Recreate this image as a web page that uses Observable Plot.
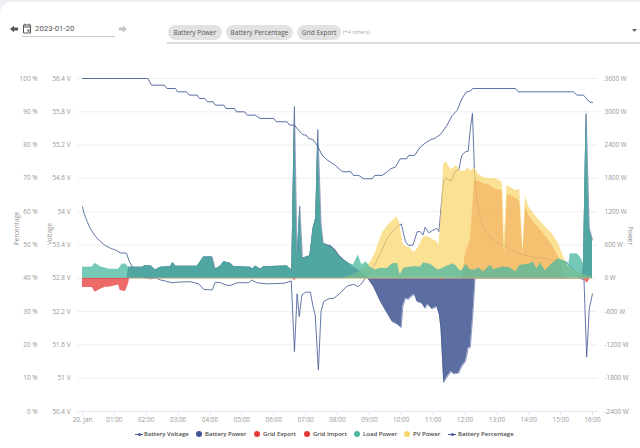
<!DOCTYPE html>
<html><head><meta charset="utf-8">
<script src="https://cdn.jsdelivr.net/npm/d3@7"></script>
<script src="https://cdn.jsdelivr.net/npm/@observablehq/plot@0.6"></script>
<style>
html,body{margin:0;padding:0;background:#eef0f4;width:640px;height:448px;overflow:hidden;font-family:"Open Sans",sans-serif}
#card{position:relative;width:640px;height:446px;margin-top:2px;background:#fff;border-top-left-radius:12px;overflow:hidden}
#head{position:relative;height:58px}
#head>*{position:absolute}
.chip{top:23px;height:15px;line-height:15px;background:#e2e2e2;border-radius:8px;font-size:6.5px;color:#555;text-align:center}
#plot{position:absolute;left:0;top:58px}
#plot svg{display:block;background:transparent}
#legend{position:absolute;top:426px;left:0;width:640px;height:12px;font-size:6px;font-weight:600;color:#4a4a4a}
#legend span{position:absolute;top:0;line-height:12px;white-space:nowrap}
#legend i{position:absolute;top:3px;width:6px;height:6px;border-radius:50%}
#legend b{position:absolute;top:5.5px;width:8px;height:1px;background:#4a5f9a}
#legend b:after{content:"";position:absolute;left:2.5px;top:-1px;width:3px;height:3px;border-radius:50%;background:#4a5f9a}
</style></head><body>
<div id="card">
<div id="head">
<svg style="left:10px;top:23px" width="8" height="8" viewBox="0 0 8 8"><path d="M0 4L4 .8V2.6H8V5.4H4V7.2Z" fill="#555"/></svg>
<svg style="left:22px;top:21px" width="10" height="11" viewBox="0 0 10 11"><path d="M1.5 2H8.5V10H1.5ZM1.5 4H8.5M3 .6V2.4M7 .6V2.4" fill="none" stroke="#555" stroke-width="1"/><rect x="5.5" y="6.5" width="2" height="2" fill="#555"/></svg>
<div style="left:35px;top:20px;font:7.8px/14px Roboto,sans-serif;color:#555">2023-01-20</div>
<div style="left:22px;top:34px;width:93px;height:1px;background:#c9c9c9"></div>
<svg style="left:119px;top:23px" width="8" height="8" viewBox="0 0 8 8"><path d="M8 4L4 .8V2.6H0V5.4H4V7.2Z" fill="#c4c4c4"/></svg>
<div class="chip" style="left:168px;width:54px">Battery Power</div>
<div class="chip" style="left:226px;width:67px">Battery Percentage</div>
<div class="chip" style="left:297px;width:44px">Grid Export</div>
<div style="left:343px;top:23px;font-size:5.4px;line-height:15px;color:#aaa">(+4 others)</div>
<div style="left:167px;top:40px;width:473px;height:2px;background:#dcdcdc"></div>
<svg style="left:632px;top:27px" width="5" height="3" viewBox="0 0 5 3"><path d="M0 0H5L2.5 3Z" fill="#666"/></svg>
</div>
<div id="plot"></div>
<div id="legend"></div>
</div>
<script>
// [minute of day, value]
const batteryPercentage = [[0,100],[123,100],[130,98],[154,98],[159,97],[175,97],[179,96],[196,96],[201,95],[216,95],[220,94],[230,94],[235,93],[246,93],[250,92],[266,92],[270,91],[286,91],[290,90],[305,90],[310,89],[325,89],[334,88],[360,88],[365,87],[385,87],[390,86],[399,86],[407,84.4],[415,83.1],[421,83],[426,81.9],[433,81.8],[442,79.9],[451,77],[460,75.6],[476,73.9],[489,72],[505,72],[510,70.9],[520,70.9],[529,69.9],[545,69.9],[550,70.9],[564,70.9],[573,71.9],[580,72.9],[589,73.4],[598,75.9],[610,75.9],[614,76.9],[625,76.9],[636,79.4],[645,80.6],[655,81.6],[664,82.1],[675,83.4],[686,85.9],[696,88.9],[705,90.4],[714,93.9],[722,95.9],[729,96.2],[735,97],[815,97],[820,96],[924,96],[931,95],[943,95],[954,93],[960,92.8]];
const batteryVoltage = [[0,54.09],[3,53.97],[9,53.82],[15,53.69],[24,53.56],[34,53.46],[43,53.39],[53,53.34],[62,53.31],[71,53.26],[83,53.25],[87,53.13],[93,53.02],[100,52.94],[109,52.86],[118,52.81],[128,52.79],[137,52.81],[147,52.77],[156,52.75],[169,52.72],[178,52.73],[203,52.74],[219,52.7],[228,52.6],[244,52.59],[250,52.73],[260,52.72],[269,52.68],[278,52.67],[291,52.72],[313,52.72],[319,52.77],[328,52.72],[347,52.7],[379,52.71],[393,52.75],[399,51.48],[404,52.52],[408,52.11],[413,52.5],[420,52.55],[429,52.55],[434,52.29],[438,52.14],[444,51.15],[449,52.2],[454,52.38],[463,52.43],[473,52.44],[485,52.53],[498,52.66],[510,52.69],[519,52.65],[526,52.71],[536,52.86],[548,53.01],[561,53.25],[573,53.52],[586,53.67],[597,53.76],[600,53.78],[608,53.46],[614,53.39],[622,53.4],[630,53.64],[636,53.64],[641,53.58],[645,53.72],[652,53.62],[660,53.67],[667,53.7],[671,53.64],[675,54.09],[680,54.57],[685,54.6],[694,54.55],[702,54.73],[708,54.75],[714,55.02],[721,55.08],[726,55.09],[730,55.5],[734,55.77],[738,54.69],[743,54.15],[749,53.85],[758,53.66],[771,53.51],[783,53.45],[793,53.38],[805,53.33],[824,53.24],[849,53.18],[874,53.15],[893,53.12],[912,53.08],[931,52.9],[937,52.8],[944,52.77],[949,51.38],[954,52.26],[960,52.52]];
const batteryPower = [[0,0],[84,0],[87,198],[112,198],[118,228],[129,222],[137,150],[147,198],[165,210],[170,282],[175,216],[216,216],[228,384],[244,384],[250,162],[260,222],[266,300],[278,270],[285,210],[316,198],[321,162],[325,222],[335,162],[341,210],[385,222],[392,162],[394,162],[399,3100],[404,330],[409,1302],[414,360],[428,408],[434,900],[439,1080],[443,2682],[449,990],[453,630],[461,600],[467,588],[476,510],[482,420],[492,330],[501,270],[513,180],[523,120],[537,0],[548,-150],[561,-420],[573,-618],[583,-780],[592,-822],[600,-888],[603,-510],[608,-360],[614,-378],[620,-318],[625,-288],[630,-420],[639,-450],[645,-540],[650,-468],[658,-552],[667,-510],[672,-660],[675,-930],[680,-1878],[686,-1782],[694,-1680],[699,-1722],[708,-1710],[714,-1590],[721,-1500],[726,-1260],[730,-1242],[735,-630],[739,0],[940,0],[943,234],[948,2964],[954,900],[960,690]];
const gridExport = [[0,0],[714,0],[721,444],[730,684],[738,1764],[746,1752],[755,1704],[768,1674],[774,1614],[790,1584],[793,564],[795,444],[800,1512],[812,1464],[823,1374],[826,900],[829,384],[834,1284],[840,1134],[852,984],[868,804],[884,594],[896,384],[906,24],[915,0],[960,0]];
const gridImport = [[0,-168],[18,-168],[24,-252],[34,-198],[43,-162],[50,-162],[68,-120],[71,-222],[81,-240],[86,-120],[89,0],[394,0],[399,-40],[404,0],[674,0],[678,-40],[682,0],[942,0],[950,-90],[956,0],[960,0]];
const loadPower = [[0,198],[18,204],[24,270],[34,210],[43,186],[50,162],[68,162],[75,258],[81,258],[87,198],[112,198],[118,228],[129,222],[137,150],[147,198],[165,210],[170,282],[175,216],[216,216],[228,384],[244,384],[250,162],[260,222],[266,300],[278,270],[285,210],[316,198],[321,162],[325,222],[335,162],[341,210],[385,222],[392,162],[394,162],[399,2910],[404,330],[409,1302],[414,360],[428,408],[434,900],[439,1080],[443,2520],[449,990],[453,630],[461,590],[467,570],[476,490],[482,400],[492,320],[501,270],[510,240],[519,420],[526,240],[534,300],[541,210],[551,150],[561,180],[573,170],[583,258],[593,270],[598,60],[605,180],[623,210],[636,204],[642,276],[655,252],[670,144],[686,216],[699,264],[705,204],[710,144],[714,132],[722,250],[730,156],[738,144],[746,192],[755,114],[768,234],[774,156],[790,204],[805,192],[815,114],[824,234],[840,252],[849,294],[855,174],[863,276],[871,132],[884,264],[896,354],[912,294],[915,204],[918,444],[931,444],[937,384],[943,264],[948,3084],[954,900],[960,684]];
const pvPower = [[0,0],[490,0],[497,30],[522,120],[541,270],[551,450],[564,810],[576,960],[592,1110],[597,990],[604,600],[611,570],[617,540],[625,462],[633,570],[642,750],[651,750],[667,660],[671,594],[675,1164],[680,2064],[685,2094],[694,1956],[704,2034],[711,1932],[722,1932],[725,2004],[730,1932],[738,1986],[746,1872],[755,1812],[768,1794],[778,1794],[790,1734],[792,1400],[794,684],[799,1674],[815,1584],[823,1596],[826,1100],[829,534],[834,1494],[840,1284],[852,1134],[868,954],[884,804],[896,624],[907,354],[915,204],[931,114],[959,24],[960,0]];
const tickValues = [-2400,-1800,-1200,-600,0,600,1200,1800,2400,3000,3600];
const hourTicks = d3.range(0,961,60);
const seriesColors = {voltage:"#4a5f9a",battery:"#3f5490",export:"#e53935",import:"#e53935",load:"#4cb8a0",pv:"#f8d66a"};
const legendItems = [["Battery Voltage","line",135,144],["Battery Power",seriesColors.battery,196,205],["Grid Export",seriesColors.export,254,263],["Grid Import",seriesColors.import,304,313],["Load Power",seriesColors.load,354,363],["PV Power",seriesColors.pv,404,413],["Battery Percentage","line",448,458]];

const pctToW = p => p*60-2400;
const voltToW = v => (v-50.4)*1000-2400;
const label = "#969696";
const area = (data,fill,op) => Plot.areaY(data,{x:d=>d[0],y1:0,y2:d=>d[1],fill,fillOpacity:op,curve:"linear"});
const chart = Plot.plot({
  width:640,height:370,marginLeft:77,marginRight:43,marginTop:18,marginBottom:19,
  style:{fontFamily:"'Open Sans',sans-serif",fontSize:"6.4px",color:label,background:"transparent",overflow:"visible"},
  x:{domain:[-9.4,969.4],axis:null},
  y:{domain:[-2400,3600],axis:null},
  marks:[
    Plot.ruleY(tickValues.slice(1),{stroke:"#efefef",strokeWidth:1}),
    Plot.ruleY([-2400],{stroke:"#e4e6f5",strokeWidth:1}),
    Plot.axisX({ticks:hourTicks,tickSize:4,tickPadding:2,stroke:"#dfe2f3",fill:label,label:null,
      tickFormat:m=>m===0?"20. jan":String(m/60).padStart(2,"0")+":00"}),
    Plot.axisY({anchor:"left",ticks:tickValues,tickSize:0,tickPadding:7,fill:label,label:null,
      tickFormat:w=>(50.4+(w+2400)/1000).toFixed(1).replace(/\.0$/,"")+" V"}),
    Plot.axisY({anchor:"left",ticks:tickValues,tickSize:0,tickPadding:40,fill:label,label:null,
      tickFormat:w=>Math.round((w+2400)/60)+" %"}),
    Plot.axisY({anchor:"right",ticks:tickValues,tickSize:0,tickPadding:7,fill:label,label:null,
      tickFormat:w=>w+" W"}),
    Plot.text(["Percentage"],{frameAnchor:"left",dx:-61,rotate:-90,fill:label}),
    Plot.text(["Voltage"],{frameAnchor:"left",dx:-28,rotate:-90,fill:label}),
    Plot.text(["Power"],{frameAnchor:"right",dx:33,rotate:90,fill:label}),
    Plot.line(batteryVoltage,{x:d=>d[0],y:d=>voltToW(d[1]),stroke:seriesColors.voltage,strokeWidth:1,strokeOpacity:.85}),
    area(batteryPower,seriesColors.battery,.85),
    Plot.line(batteryPower,{x:d=>d[0],y:d=>d[1],stroke:seriesColors.battery,strokeWidth:.7,strokeOpacity:.8}),
    area(gridExport,seriesColors.export,.6),
    area(gridImport,seriesColors.import,.75),
    area(pvPower,seriesColors.pv,.72),
    area(loadPower,seriesColors.load,.76),
    Plot.ruleY([0],{x1:90,x2:960,stroke:"#d9b26a",strokeWidth:.7}),
    Plot.line(batteryPercentage,{x:d=>d[0],y:d=>pctToW(d[1]),stroke:seriesColors.voltage,strokeWidth:1,strokeOpacity:.9})
  ]
});
document.getElementById("plot").append(chart);
const lg = document.getElementById("legend");
for (const [name,c,sx,tx] of legendItems){
  const mk = document.createElement(c==="line"?"b":"i");
  mk.style.left = sx+"px";
  if(c!=="line") mk.style.background=c;
  const t = document.createElement("span");
  t.style.left = tx+"px"; t.textContent = name;
  lg.append(mk,t);
}
</script>
</body></html>
